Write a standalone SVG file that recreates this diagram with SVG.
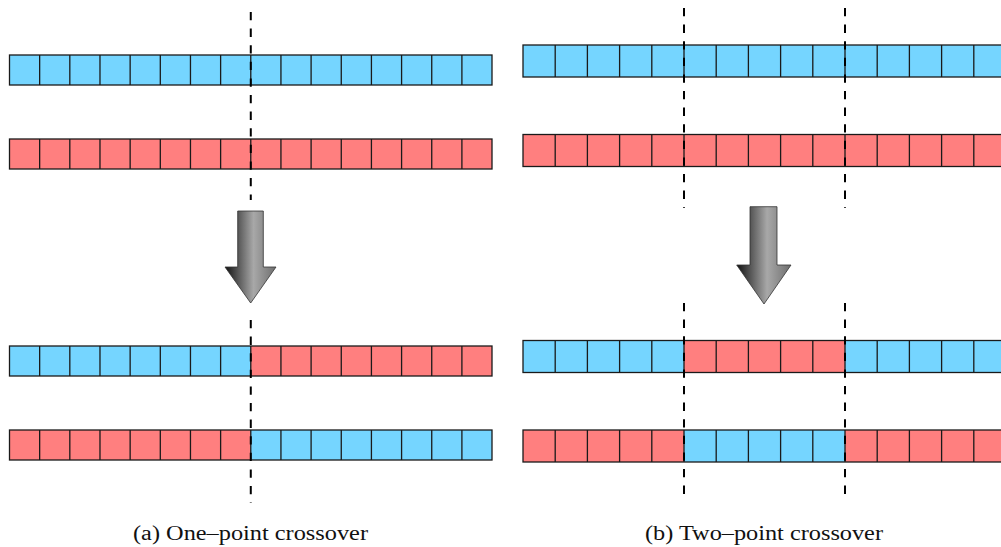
<svg xmlns="http://www.w3.org/2000/svg" width="1001" height="547" viewBox="0 0 1001 547">
<style>
.b{fill:#75d5ff}
.r{fill:#ff7f7f}
.out{fill:none;stroke:#1a1a1a;stroke-width:1.3}
.div{fill:none;stroke:#1a1a1a;stroke-width:1.3}
.cut{fill:none;stroke:#000;stroke-width:2;stroke-dasharray:8.3 8.3}
.arrow{fill:url(#g);stroke:#333;stroke-width:0.8}
.cap{font-family:"Liberation Serif","DejaVu Serif",serif;font-size:20px;fill:#111}
</style>
<defs>
<linearGradient id="g" x1="0" y1="0" x2="1" y2="0">
<stop offset="0" stop-color="#111"/>
<stop offset="0.25" stop-color="#555"/>
<stop offset="0.56" stop-color="#a8a8a8"/>
<stop offset="1" stop-color="#6e6e6e"/>
</linearGradient>
</defs>
<rect width="1001" height="547" fill="#fff"/>

<!-- Left panel: one-point crossover -->
<g id="left-parent1">
<rect class="b" x="9.5" y="55" width="482.5" height="30"/>
<path class="div" d="M39.66 55v30M69.82 55v30M99.98 55v30M130.14 55v30M160.3 55v30M190.46 55v30M220.62 55v30M250.78 55v30M280.94 55v30M311.1 55v30M341.26 55v30M371.42 55v30M401.58 55v30M431.74 55v30M461.9 55v30"/>
<rect class="out" x="9.5" y="55" width="482.5" height="30"/>
</g>
<g id="left-parent2">
<rect class="r" x="9.5" y="139" width="482.5" height="30"/>
<path class="div" d="M39.66 139v30M69.82 139v30M99.98 139v30M130.14 139v30M160.3 139v30M190.46 139v30M220.62 139v30M250.78 139v30M280.94 139v30M311.1 139v30M341.26 139v30M371.42 139v30M401.58 139v30M431.74 139v30M461.9 139v30"/>
<rect class="out" x="9.5" y="139" width="482.5" height="30"/>
</g>
<g id="left-child1">
<rect class="b" x="9.5" y="346" width="241.28" height="30"/>
<rect class="r" x="250.78" y="346" width="241.22" height="30"/>
<path class="div" d="M39.66 346v30M69.82 346v30M99.98 346v30M130.14 346v30M160.3 346v30M190.46 346v30M220.62 346v30M250.78 346v30M280.94 346v30M311.1 346v30M341.26 346v30M371.42 346v30M401.58 346v30M431.74 346v30M461.9 346v30"/>
<rect class="out" x="9.5" y="346" width="482.5" height="30"/>
</g>
<g id="left-child2">
<rect class="r" x="9.5" y="430" width="241.28" height="30"/>
<rect class="b" x="250.78" y="430" width="241.22" height="30"/>
<path class="div" d="M39.66 430v30M69.82 430v30M99.98 430v30M130.14 430v30M160.3 430v30M190.46 430v30M220.62 430v30M250.78 430v30M280.94 430v30M311.1 430v30M341.26 430v30M371.42 430v30M401.58 430v30M431.74 430v30M461.9 430v30"/>
<rect class="out" x="9.5" y="430" width="482.5" height="30"/>
</g>

<!-- Right panel: two-point crossover -->
<g id="right-parent1">
<rect class="b" x="523" y="45" width="490" height="32"/>
<path class="div" d="M555.2 45v32M587.4 45v32M619.6 45v32M651.8 45v32M684 45v32M716.2 45v32M748.4 45v32M780.6 45v32M812.8 45v32M845 45v32M877.2 45v32M909.4 45v32M941.6 45v32M973.8 45v32M1006 45v32"/>
<rect class="out" x="523" y="45" width="490" height="32"/>
</g>
<g id="right-parent2">
<rect class="r" x="523" y="134.5" width="490" height="32"/>
<path class="div" d="M555.2 134.5v32M587.4 134.5v32M619.6 134.5v32M651.8 134.5v32M684 134.5v32M716.2 134.5v32M748.4 134.5v32M780.6 134.5v32M812.8 134.5v32M845 134.5v32M877.2 134.5v32M909.4 134.5v32M941.6 134.5v32M973.8 134.5v32M1006 134.5v32"/>
<rect class="out" x="523" y="134.5" width="490" height="32"/>
</g>
<g id="right-child1">
<rect class="b" x="523" y="340.5" width="161" height="32"/>
<rect class="r" x="684" y="340.5" width="161" height="32"/>
<rect class="b" x="845" y="340.5" width="168" height="32"/>
<path class="div" d="M555.2 340.5v32M587.4 340.5v32M619.6 340.5v32M651.8 340.5v32M684 340.5v32M716.2 340.5v32M748.4 340.5v32M780.6 340.5v32M812.8 340.5v32M845 340.5v32M877.2 340.5v32M909.4 340.5v32M941.6 340.5v32M973.8 340.5v32M1006 340.5v32"/>
<rect class="out" x="523" y="340.5" width="490" height="32"/>
</g>
<g id="right-child2">
<rect class="r" x="523" y="430" width="161" height="32"/>
<rect class="b" x="684" y="430" width="161" height="32"/>
<rect class="r" x="845" y="430" width="168" height="32"/>
<path class="div" d="M555.2 430v32M587.4 430v32M619.6 430v32M651.8 430v32M684 430v32M716.2 430v32M748.4 430v32M780.6 430v32M812.8 430v32M845 430v32M877.2 430v32M909.4 430v32M941.6 430v32M973.8 430v32M1006 430v32"/>
<rect class="out" x="523" y="430" width="490" height="32"/>
</g>

<!-- Connectors: cut lines and arrows -->
<g id="connectors">
<path class="cut" d="M250.78 12V200M250.78 320V503"/>
<path class="cut" d="M684 8V208M684 303V502M845 8V208M845 303V502"/>
<polygon class="arrow" points="237.7,211 263.3,211 263.3,267 276,267 250.7,303 225,267 237.7,267"/>
<polygon class="arrow" points="750,206.7 777,206.7 777,265 791,265 764,304 736.7,265 750,265"/>
</g>

<g id="captions">
<text class="cap" x="250.5" y="540" text-anchor="middle" textLength="235" lengthAdjust="spacingAndGlyphs">(a) One–point crossover</text>
<text class="cap" x="764" y="540" text-anchor="middle" textLength="238" lengthAdjust="spacingAndGlyphs">(b) Two–point crossover</text>
</g>
</svg>
